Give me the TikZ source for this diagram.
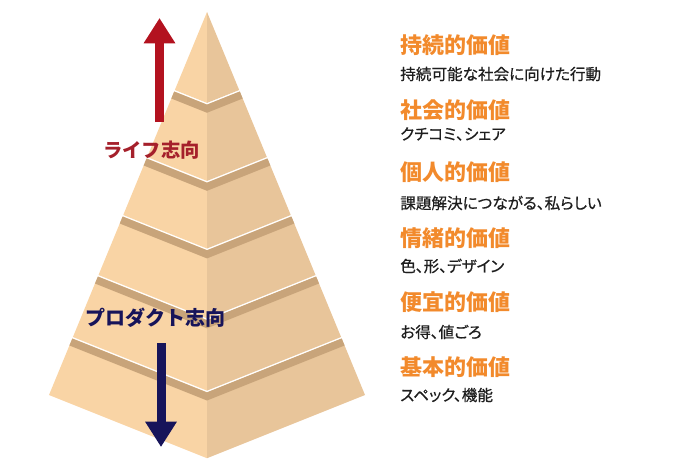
\documentclass[tikz,border=0pt]{standalone}
\usepackage{fontspec}
\setmainfont{Noto Sans CJK JP}
\newfontfamily\notefont{Noto Sans CJK JP}[RawFeature=+palt, FakeBold=0.6]
\usetikzlibrary{arrows.meta}
\definecolor{SandLight}{HTML}{F9D4A5}
\definecolor{SandDark}{HTML}{E8C59A}
\definecolor{SandShade}{HTML}{C8A47A}
\definecolor{LifeRed}{HTML}{B3121F}
\definecolor{LifeText}{HTML}{A5202B}
\definecolor{ProdNavy}{HTML}{17145A}
\definecolor{ValOrange}{HTML}{F28A2C}
\definecolor{ValText}{HTML}{1E1E1E}

\begin{document}
\begin{tikzpicture}[x=0.75pt, y=-0.75pt,
        face/.style={fill=SandLight},
        side/.style={fill=SandDark},
        shade/.style={fill=SandShade},
        title/.style={anchor=west, inner sep=0pt, font=\fontsize{16.5}{18}\selectfont\bfseries, text=ValOrange},
        note/.style={anchor=west, inner sep=0pt, font=\fontsize{11.7}{14}\notefont, text=ValText},
        orient/.style={inner sep=0pt, font=\fontsize{14.5}{16}\selectfont\bfseries},
        bigarrow/.style={line width=6.75pt, -{Triangle[length=19pt, width=22.5pt]}}
    ]
    \useasboundingbox (0,0) rectangle (688,471);

    % Pyramid top
    \pgfmathsetmacro\wtop{0.41253*(90-12)}
    \fill[face] (207,12) -- ({207-\wtop},90) -- (207,{90+0.4*\wtop}) -- cycle;
    \fill[side] (207,12) -- ({207+\wtop},90) -- (207,{90+0.4*\wtop}) -- cycle;

    % Pyramid layers
    \foreach \ya/\yb in {91.5/157, 158.5/215, 216.5/275, 276.5/337, 338.5/395} {
        \pgfmathsetmacro\wa{0.41253*(\ya-12)}
        \pgfmathsetmacro\wb{0.41253*(\yb-12)}
        \pgfmathsetmacro\ws{0.41253*(\ya+7-12)}
        \fill[face] ({207-\wa},\ya) -- (207,{\ya+0.4*\wa}) -- (207,{\yb+0.4*\wb}) -- ({207-\wb},\yb) -- cycle;
        \fill[side] ({207+\wa},\ya) -- (207,{\ya+0.4*\wa}) -- (207,{\yb+0.4*\wb}) -- ({207+\wb},\yb) -- cycle;
        \fill[shade] ({207-\wa},\ya) -- (207,{\ya+0.4*\wa}) -- ({207+\wa},\ya)
            -- ({207+\ws},{\ya+7}) -- (207,{\ya+7+0.4*\ws}) -- ({207-\ws},{\ya+7}) -- cycle;
    }

    % Orientation arrows
    \coordinate (lifeTail) at (159.5,122);
    \coordinate (lifeHead) at (159.5,18);
    \draw[bigarrow, LifeRed] (lifeTail) -- (lifeHead);
    \node[orient, text=LifeText] (life) at (151.5,150) {ライフ志向};

    \node[orient, text=ProdNavy, font=\fontsize{15}{17}\selectfont\bfseries] (product) at (155,318) {プロダクト志向};
    \coordinate (prodTail) at (161,343);
    \coordinate (prodHead) at (161,447);
    \draw[bigarrow, ProdNavy] (prodTail) -- (prodHead);

    % Values
    \foreach \vname/\vtitle/\vty/\vnote/\vny in {
        sustain/持続的価値/45.5/持続可能な社会に向けた行動/74,
        social/社会的価値/110/クチコミ、シェア/134,
        personal/個人的価値/172/課題解決につながる、私らしい/203,
        emotion/情緒的価値/238.5/色、形、デザイン/266,
        benefit/便宜的価値/302/お得、値ごろ/332,
        basic/基本的価値/367/スペック、機能/395} {
        \node[title] (\vname) at (400,\vty) {\vtitle};
        \node[note] (\vname-note) at (400,\vny) {\vnote};
    }
\end{tikzpicture}
\end{document}
